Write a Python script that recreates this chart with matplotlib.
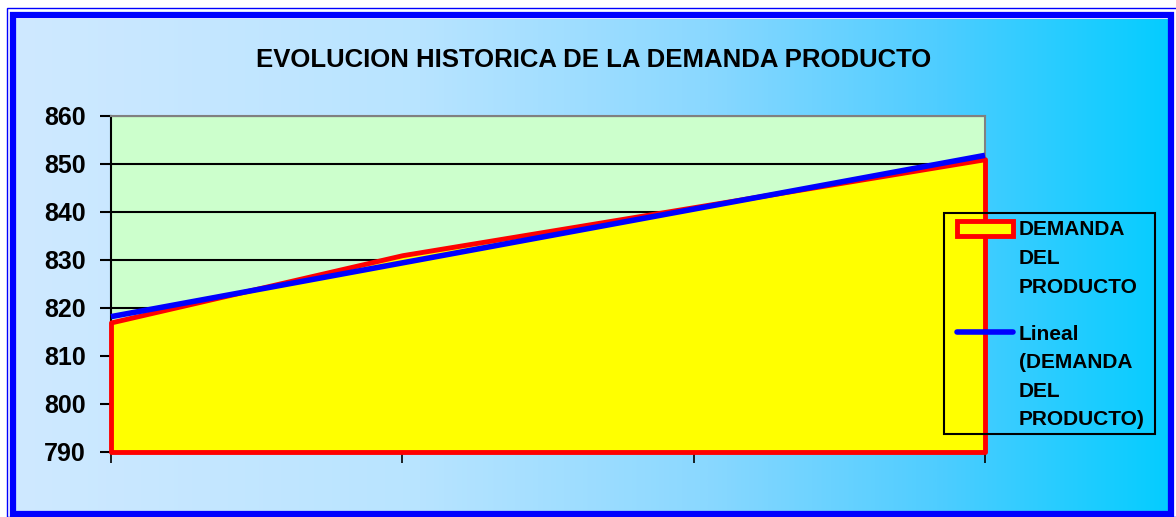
import numpy as np
import matplotlib.pyplot as plt
from matplotlib.colors import LinearSegmentedColormap
from matplotlib.patches import Rectangle
from matplotlib.lines import Line2D

plt.rcParams['font.family'] = ['Liberation Sans', 'DejaVu Sans']
plt.rcParams['font.weight'] = 'bold'

# demanda historica por periodo
demanda = [817, 831, 841, 851]
y_ticks = [790, 800, 810, 820, 830, 840, 850, 860]
titulo = 'EVOLUCION HISTORICA DE LA DEMANDA PRODUCTO'
serie_label = ['DEMANDA', 'DEL', 'PRODUCTO']
tendencia_label = ['Lineal', '(DEMANDA', 'DEL', 'PRODUCTO)']

W, H = 1176, 517
fig = plt.figure(figsize=(W / 100, H / 100), dpi=100, facecolor='white')


def fx(px):
    return px / W


def fy(py):
    return 1 - py / H


# fondo degradado (claro a la izquierda, cian a la derecha)
cmap = LinearSegmentedColormap.from_list(
    'fondo', [(0.0, '#cfe9ff'), (0.35, '#b8e4ff'), (0.6, '#8ad8ff'),
              (0.8, '#4fcdff'), (1.0, '#05ccff')])
bg = fig.add_axes([fx(16), fy(512), fx(1168 - 16), fy(19) - fy(512)], zorder=-10)
bg.imshow(np.linspace(0, 1, 512)[None, :], cmap=cmap, aspect='auto',
          extent=[0, 1, 0, 1])
bg.axis('off')

# marcos azules
fig.patches.append(Rectangle((fx(7), fy(517)), fx(1176), fy(8) - fy(517),
                             transform=fig.transFigure, fill=False,
                             edgecolor='#0000ff', lw=1.0))
fig.patches.append(Rectangle((fx(13), fy(514)), fx(1171 - 13), fy(15) - fy(514),
                             transform=fig.transFigure, fill=False,
                             edgecolor='#0000ff', lw=4.5))

ax = fig.add_axes([fx(111), fy(452), fx(985 - 111), fy(116) - fy(452)])
ax.set_facecolor('#ccffcc')

x = np.arange(len(demanda))
coef = np.polyfit(x, demanda, 1)
tendencia = np.polyval(coef, x)

ax.fill_between(x, 790, demanda, facecolor='#ffff00', edgecolor='#ff0000',
                lw=3.5, zorder=3, clip_on=False)
ax.plot(x, tendencia, color='#0000ff', lw=4, zorder=4, solid_capstyle='butt',
        clip_on=False)

ax.set_xlim(0, len(demanda) - 1)
ax.set_ylim(790, 860)
ax.set_yticks(y_ticks)
ax.set_xticks(x)
ax.set_xticklabels([])
ax.tick_params(axis='y', direction='out', length=8, width=1.5, pad=10,
               labelsize=18)
ax.tick_params(axis='x', direction='out', length=8, width=1.2)
for lbl in ax.get_yticklabels():
    lbl.set_fontweight('bold')
ax.yaxis.grid(True, color='black', lw=1.5, zorder=1)
ax.set_axisbelow(True)

ax.spines['top'].set_color('#808080')
ax.spines['right'].set_color('#808080')
ax.spines['left'].set_color('black')
ax.spines['bottom'].set_color('black')
for s in ax.spines.values():
    s.set_linewidth(1.5)

fig.text(fx(594), fy(60), titulo, ha='center', va='center', fontsize=18.5,
         fontweight='bold')

# leyenda dibujada a mano (texto partido en varias lineas)
fig.patches.append(Rectangle((fx(944), fy(434)), fx(1155 - 944), fy(213) - fy(434),
                             transform=fig.transFigure, fill=False,
                             edgecolor='black', lw=1.5, zorder=10))
fig.patches.append(Rectangle((fx(957), fy(236)), fx(1013 - 957), fy(221) - fy(236),
                             transform=fig.transFigure, facecolor='#ffff00',
                             edgecolor='#ff0000', lw=3.5, zorder=10))
fig.lines.append(Line2D([fx(957), fx(1013)], [fy(332), fy(332)],
                        transform=fig.transFigure, color='#0000ff', lw=4,
                        solid_capstyle='round', zorder=10))
paso = 28.6
for i, linea in enumerate(serie_label):
    fig.text(fx(1019), fy(230 + i * paso), linea, ha='left', va='center',
             fontsize=15, fontweight='bold')
for i, linea in enumerate(tendencia_label):
    fig.text(fx(1019), fy(334 + i * paso), linea, ha='left', va='center',
             fontsize=15, fontweight='bold')

fig.savefig('out.png', dpi=100, facecolor=fig.get_facecolor())
